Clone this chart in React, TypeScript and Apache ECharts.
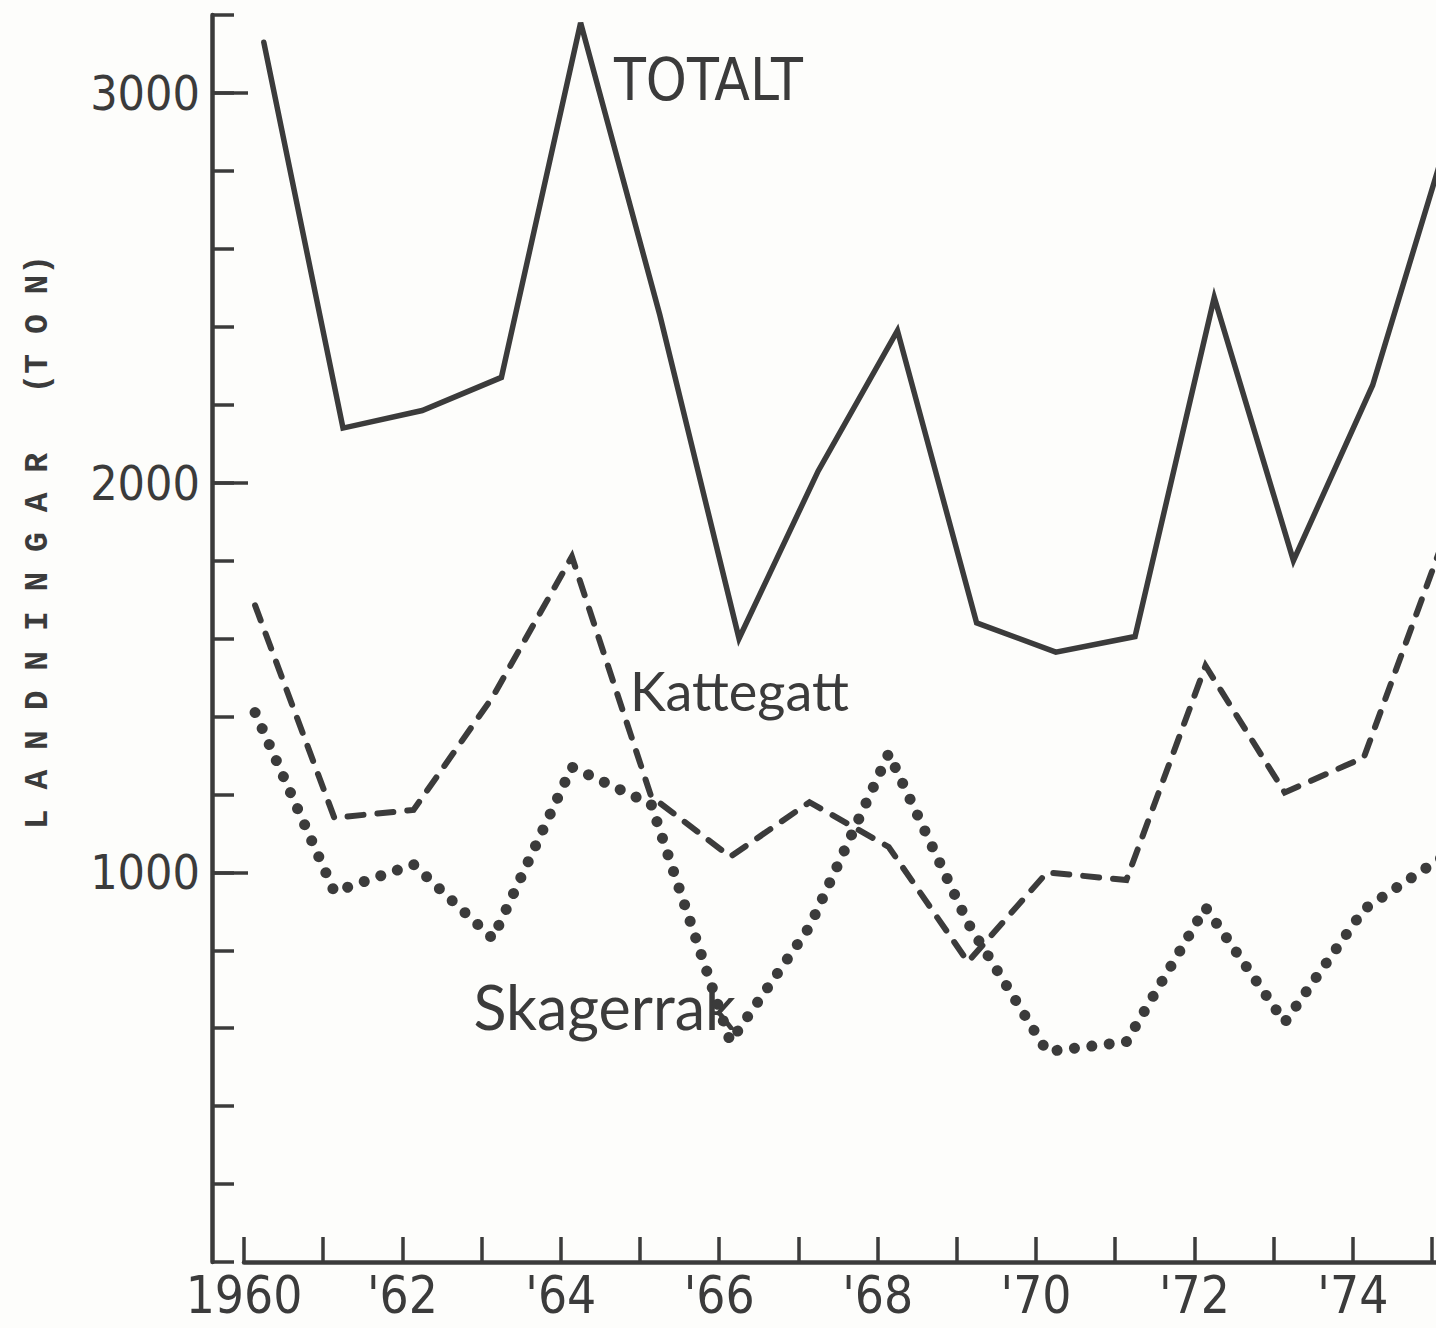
import React, { useEffect, useRef } from "react";
import * as echarts from "echarts";

// Landings per year, tonnes
const years = [1960, 1961, 1962, 1963, 1964, 1965, 1966, 1967, 1968, 1969, 1970, 1971, 1972, 1973, 1974, 1975];
const totalt = [3130, 2140, 2185, 2270, 3180, 2430, 1600, 2030, 2390, 1640, 1565, 1605, 2475, 1800, 2250, 2920];
const kattegatt = [1685, 1140, 1160, 1450, 1810, 1195, 1040, 1180, 1065, 770, 1000, 980, 1530, 1205, 1295, 1850];
const skagerrak = [1410, 950, 1020, 830, 1270, 1175, 565, 860, 1305, 870, 540, 565, 910, 615, 905, 1040];

// Axis ticks and labels
const yearTicks = years;
const yearLabels = [1960, 1962, 1964, 1966, 1968, 1970, 1972, 1974];
const tonLabels = [1000, 2000, 3000];

// Each year's value is plotted a little after its tick mark (hand-drawn offsets)
const SHIFT_TOTAL = 0.25;
const SHIFT_PART = 0.14;

const INK = "#3b3b3b";
const NARROW = "'Liberation Sans Narrow', 'DejaVu Sans Condensed', 'Arial Narrow', 'Liberation Sans', sans-serif";
const ROUND = "Lato, 'Noto Sans', sans-serif";
const TYPEWRITER = "'Liberation Mono', 'DejaVu Sans Mono', monospace";

const toPoints = (vals: number[], shift: number) => years.map((y, i) => [y + shift, vals[i]]);

export default function App() {
  const ref = useRef<HTMLDivElement>(null);

  useEffect(() => {
    if (!ref.current) return;
    const chart = echarts.init(ref.current, undefined, { renderer: "svg" });

    const baseY = {
      type: "value",
      min: 0,
      max: 3200,
      interval: 200,
      position: "left",
      offset: 32,
      splitLine: { show: false },
    };

    chart.setOption({
      animation: false,
      backgroundColor: "#fdfdfb",
      grid: { left: 244, right: 0, top: 15, bottom: 66, containLabel: false },
      xAxis: {
        type: "value",
        min: 1960,
        max: 1975.05,
        interval: 1,
        splitLine: { show: false },
        axisLine: { show: true, lineStyle: { color: INK, width: 4.5 } },
        axisTick: {
          show: true,
          inside: true,
          length: 25,
          customValues: yearTicks,
          lineStyle: { color: INK, width: 3.5 },
        },
        axisLabel: {
          show: true,
          customValues: yearLabels,
          margin: 8,
          color: INK,
          fontFamily: NARROW,
          fontSize: 51,
          formatter: (v: number) => (v === 1960 ? "1960" : "'" + String(v).slice(2)),
        },
      },
      yAxis: [
        {
          ...baseY,
          axisLine: { show: true, lineStyle: { color: INK, width: 4.5 } },
          axisTick: { show: true, inside: true, length: 22, lineStyle: { color: INK, width: 3.5 } },
          axisLabel: { show: false },
        },
        {
          ...baseY,
          axisLine: { show: false },
          axisTick: {
            show: true,
            inside: true,
            length: 36,
            customValues: tonLabels,
            lineStyle: { color: INK, width: 3.5 },
          },
          axisLabel: {
            show: true,
            customValues: tonLabels,
            margin: 12,
            color: INK,
            fontFamily: NARROW,
            fontSize: 48,
            formatter: (v: number) => String(v),
          },
        },
      ],
      series: [
        {
          name: "TOTALT",
          type: "line",
          data: toPoints(totalt, SHIFT_TOTAL),
          showSymbol: false,
          lineStyle: { color: INK, width: 5.5, join: "miter", miterLimit: 10, cap: "round" },
        },
        {
          name: "Kattegatt",
          type: "line",
          data: toPoints(kattegatt, SHIFT_PART),
          showSymbol: false,
          lineStyle: { color: INK, width: 6, type: [16, 14], cap: "round", join: "miter" },
        },
        {
          name: "Skagerrak",
          type: "line",
          data: toPoints(skagerrak, SHIFT_PART),
          showSymbol: false,
          lineStyle: { color: INK, width: 11, type: [0.01, 17.5], cap: "round", join: "round" },
        },
      ],
      graphic: [
        {
          type: "text",
          x: 38,
          y: 542,
          rotation: Math.PI / 2,
          style: {
            text: "L A N D N I N G A R   (T O N)",
            fill: INK,
            font: `bold 33px ${TYPEWRITER}`,
            align: "center",
            verticalAlign: "middle",
          },
        },
        {
          type: "text",
          x: 614,
          y: 80,
          style: {
            text: "TOTALT",
            fill: INK,
            font: `58px ${NARROW}`,
            align: "left",
            verticalAlign: "middle",
          },
        },
        {
          type: "text",
          x: 630,
          y: 690,
          style: {
            text: "Kattegatt",
            fill: INK,
            font: `54px ${ROUND}`,
            align: "left",
            verticalAlign: "middle",
          },
        },
        {
          type: "text",
          x: 736,
          y: 1006,
          style: {
            text: "Skagerrak",
            fill: INK,
            font: `61px ${ROUND}`,
            align: "right",
            verticalAlign: "middle",
          },
        },
      ],
    });

    return () => chart.dispose();
  }, []);

  return (
    <div
      ref={ref}
      style={{ position: "absolute", left: 0, top: 0, width: 1436, height: 1328 }}
    />
  );
}
